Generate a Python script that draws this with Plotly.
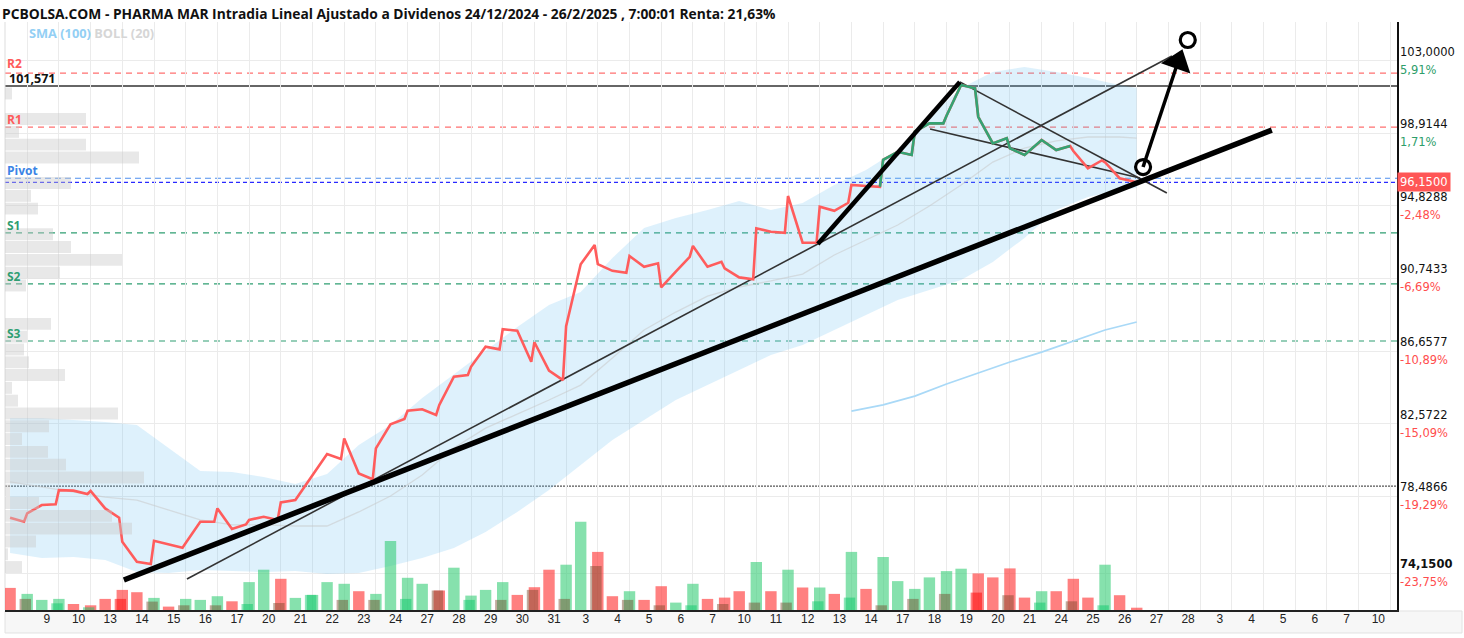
import plotly.graph_objects as go

TITLE = "PCBOLSA.COM - PHARMA MAR Intradia Lineal Ajustado a Dividenos 24/12/2024 - 26/2/2025 , 7:00:01 Renta: 21,63%"

DAY_LABELS = ["9", "10", "13", "14", "15", "16", "17", "20", "21", "22", "23", "24", "27", "28", "29",
              "30", "31", "3", "4", "5", "6", "7", "10", "11", "12", "13", "14", "17", "18", "19", "20",
              "21", "24", "25", "26", "27", "28", "3", "4", "5", "6", "7", "10"]

# intraday price: day -2 (mid, close), days -1..33 (open, mid, close), day 34 (open)
PRICE = [77.28, 77.05,
         77.52, 77.99, 78.03, 78.83, 78.80, 78.61, 78.78, 77.80, 77.28, 75.92, 74.80, 74.67,
         75.98, 75.80, 75.59, 75.85, 77.05, 77.05, 77.80, 76.64, 76.90, 77.15, 77.33, 77.15,
         78.14, 78.27, 79.40, 79.62, 80.86, 80.58, 81.74, 79.77, 79.44, 81.18, 82.53, 82.83,
         83.30, 83.38, 83.06, 83.62, 85.21, 85.31, 85.77, 86.90, 86.75, 87.88, 87.80, 86.05,
         87.15, 85.55, 85.02, 88.06, 91.54, 92.62, 91.55, 91.17, 91.06, 92.00, 91.40, 91.59,
         90.24, 91.12, 91.96, 92.57, 91.40, 91.68, 91.31, 90.80, 90.69, 93.56, 93.37, 93.31,
         95.38, 92.75, 92.75, 94.78, 94.55, 95.00, 96.00, 95.94, 95.90, 97.41, 97.87, 97.69,
         99.00, 99.47, 99.47, 99.90, 101.63, 101.44, 99.84, 98.34, 98.63, 98.06, 97.69, 98.36,
         98.53, 97.97, 98.19, 97.91, 96.94, 97.38, 97.28, 96.38, 96.20,
         96.15]
GREEN_FROM, GREEN_TO = 82, 101   # stretch of the line drawn in green

# volume, two bars per session (last one = opening of 26 Feb)
VOL = [221, 161, 101, 111, 60, 47, 111, 201, 178, 121, 34, 111, 101, 138, 87, 279, 403, 312,
       121, 151, 279, 262, 188, 161, 691, 322, 262, 195, 423, 144, 201, 279, 151, 228, 403, 453,
       883, 581, 138, 188, 101, 238, 74, 262, 111, 124, 188, 480, 188, 403, 225, 225, 161, 581,
       211, 530, 289, 211, 326, 389, 413, 366, 326, 416, 124, 188, 188, 312, 124, 453, 148, 23]
VOL_DIR = list("rgggrrrrrg" "rgggrggrgg" "ggrggggrgg" "ggrrrggrrg" "rrggrrrgrg"
               "rgrgrggggg" "grrrrgrrrg" "rr")
# opening-auction volume of each session
OPEN_VOL = [111, 67, 27, 111, 84, 47, 47, 60, 70, 151, 101, 101, 111, 195, 101, 101, 201, 111,
            440, 101, 47, 47, 60, 74, 74, 87, 124, 47, 111, 161, 174, 148, 74, 87, 47]
OPEN_DIR = list("kggrkkkgkgkkgkgkkkkkkgkkkggkkkrkgkg")

# Bollinger (20) per session, last value at the final tick
BOLL_UP = [82.89, 82.89, 82.78, 82.66, 82.49, 81.20, 79.90, 79.85, 79.57, 79.17, 79.74, 81.37,
           82.49, 84.01, 85.36, 86.71, 88.01, 89.25, 89.98, 91.89, 93.58, 94.14, 94.59, 95.10,
           94.59, 94.99, 96.00, 96.84, 97.97, 99.83, 101.46, 102.36, 102.64, 102.36, 102.02,
           101.63, 101.46]
BOLL_MID = [79.29, 79.00, 78.72, 78.44, 78.27, 77.71, 77.15, 76.87, 76.87, 76.81, 76.81, 77.60,
            78.50, 79.68, 81.20, 82.32, 83.11, 83.90, 84.74, 86.26, 87.84, 88.85, 89.75, 90.26,
            90.60, 90.99, 92.06, 92.90, 93.75, 94.82, 96.00, 97.29, 98.08, 98.48, 98.70, 98.70,
            98.64]
BOLL_LOW = [75.29, 75.01, 75.07, 74.90, 74.22, 74.16, 74.33, 74.28, 74.22, 74.28, 74.11, 74.16,
            74.56, 75.01, 75.57, 76.47, 77.60, 78.84, 80.24, 81.65, 82.78, 83.90, 84.74, 85.59,
            86.43, 87.00, 87.84, 88.68, 89.53, 90.09, 90.65, 91.67, 93.02, 94.59, 95.32, 95.72,
            95.83]
SMA100 = [83.28, 83.62, 84.12, 84.80, 85.42, 86.04, 86.60, 87.22, 87.84, 88.29]
SMA_FIRST_DAY = 25

# volume-at-price profile (top bin first)
PROFILE_TOP, PROFILE_STEP = 101.15, 0.7203
PROFILE_VOL = [70, 0, 810, 140, 810, 1340, 0, 660, 260, 330, 0, 480, 660, 1170, 550, 210, 0, 0,
               460, 220, 190, 240, 600, 70, 130, 1130, 440, 170, 430, 610, 1390, 50, 340, 1070,
               1270, 310, 30, 170]

# levels
R2, R1, PIVOT, S1, S2, S3 = 102.30, 99.26, 96.38, 93.30, 90.43, 87.22
LAST_MAX = 101.571
LAST_PRICE = 96.15
START_PRICE = 79.05

Y_TICKS = [103.0, 98.9144, 94.8288, 90.7433, 86.6577, 82.5722, 78.4866, 74.15]
Y_LABELS = ["103,0000", "98,9144", "94,8288", "90,7433", "86,6577", "82,5722", "78,4866", "74,1500"]
Y_PCT = ["5,91%", "1,71%", "-2,48%", "-6,69%", "-10,89%", "-15,09%", "-19,29%", "-23,75%"]

# drawn lines (session index, price)
TREND_THICK = [(2.05, 73.77), (38.26, 99.09)]
TREND_THIN = [(4.04, 73.83), (35.11, 103.26)]
LEG_UP = [(23.94, 92.68), (28.42, 101.80)]
LEG_DOWN = [(28.42, 101.80), (34.95, 95.55)]
WEDGE = [(27.48, 99.15), (34.10, 96.39)]
ARROW = [(34.20, 97.01), (35.30, 102.92)]
ARROW_END = (35.61, 104.16)

X_RANGE = [-1.70, 42.21]
Y_RANGE = [72.083, 105.172]
VOL_RANGE = [0, 5880]
PROF_RANGE = [0, 13920]

# ---------- time grid ----------
price_t = []
for d in range(-2, 35):
    price_t += [d, d + 0.46, d + 0.9]
price_t = price_t[1:1 + len(PRICE)]
bar_t = []
for d in range(-2, 35):
    bar_t += [d, d + 0.46]
bar_t = bar_t[1:1 + len(VOL)]
open_t = bar_t[1::2][:len(OPEN_VOL)]
boll_t = [d + 0.46 for d in range(-2, 34)] + [34.0]
sma_t = [SMA_FIRST_DAY + k for k in range(len(SMA100))]
label_pos = [k - 0.38 for k in range(len(DAY_LABELS))]
prof_y = [PROFILE_TOP - j * PROFILE_STEP for j in range(len(PROFILE_VOL))]

fig = go.Figure()

# volume profile
fig.add_trace(go.Bar(x=PROFILE_VOL, y=prof_y, orientation="h", width=PROFILE_STEP * 0.93,
                     marker=dict(color="rgba(200,200,200,0.42)", line=dict(width=0)),
                     xaxis="x3", yaxis="y", hoverinfo="skip"))
# Bollinger band
fig.add_trace(go.Scatter(x=boll_t, y=BOLL_UP, mode="lines", line=dict(width=0, color="rgba(0,0,0,0)"),
                         hoverinfo="skip"))
fig.add_trace(go.Scatter(x=boll_t, y=BOLL_LOW, mode="lines", line=dict(width=0, color="rgba(0,0,0,0)"),
                         fill="tonexty", fillcolor="rgba(100,190,240,0.21)", hoverinfo="skip"))
fig.add_trace(go.Scatter(x=boll_t, y=BOLL_MID, mode="lines",
                         line=dict(width=1.3, color="rgba(200,200,200,0.55)"), hoverinfo="skip"))
fig.add_trace(go.Scatter(x=sma_t, y=SMA100, mode="lines", line=dict(width=1.8, color="#a9d9f7"),
                         hoverinfo="skip"))

# volume bars
OUT_COL = {"g": "rgba(46,204,113,0.58)", "r": "rgba(255,60,60,0.65)"}
IN_COL = {"g": "rgba(0,200,100,0.45)", "r": "rgba(255,0,0,0.5)", "k": "rgba(120,70,40,0.45)"}
fig.add_trace(go.Bar(x=bar_t, y=VOL, width=0.36, xaxis="x", yaxis="y2",
                     marker=dict(color=[OUT_COL[c] for c in VOL_DIR], line=dict(width=0)),
                     hoverinfo="skip"))
fig.add_trace(go.Bar(x=open_t, y=OPEN_VOL, width=0.36, offset=-0.24, xaxis="x", yaxis="y2",
                     marker=dict(color=[IN_COL[c] for c in OPEN_DIR], line=dict(width=0)),
                     hoverinfo="skip"))

# drawn trend lines
def seg(pts, w, col):
    fig.add_trace(go.Scatter(x=[p[0] for p in pts], y=[p[1] for p in pts], mode="lines",
                             line=dict(width=w, color=col), hoverinfo="skip"))

seg(TREND_THIN, 1.6, "#333333")
seg(LEG_DOWN, 1.6, "#333333")
seg(WEDGE, 1.6, "#333333")

# price line
fig.add_trace(go.Scatter(x=price_t, y=PRICE, mode="lines", line=dict(width=2.6, color="#ff5c5c"),
                         hoverinfo="skip"))
fig.add_trace(go.Scatter(x=price_t[GREEN_FROM:GREEN_TO], y=PRICE[GREEN_FROM:GREEN_TO], mode="lines",
                         line=dict(width=2.6, color="#34a373"), hoverinfo="skip"))

seg(TREND_THICK, 5.5, "#000000")
seg(LEG_UP, 4.5, "#000000")
seg(ARROW, 3.5, "#000000")
fig.add_trace(go.Scatter(x=[ARROW[1][0]], y=[ARROW[1][1]], mode="markers",
                         marker=dict(symbol="triangle-up", size=27, angle=19.5, color="#000000"),
                         hoverinfo="skip"))
fig.add_trace(go.Scatter(x=[ARROW[0][0], ARROW_END[0]], y=[ARROW[0][1], ARROW_END[1]], mode="markers",
                         marker=dict(symbol="circle-open", size=15, color="#000000",
                                     line=dict(width=3.2, color="#000000")),
                         hoverinfo="skip"))
# dummy trace for label axis
fig.add_trace(go.Scatter(x=[None], y=[None], xaxis="x2", yaxis="y", hoverinfo="skip"))

# level lines
shapes = []
def hline(y, color, dash, width=1.2):
    shapes.append(dict(type="line", xref="paper", x0=0, x1=1, yref="y", y0=y, y1=y,
                       line=dict(color=color, width=width, dash=dash), layer="between"))

hline(R2, "#ff7070", "6px,5px")
hline(R1, "#ff7070", "6px,5px")
hline(PIVOT, "#4d8ff0", "6px,4px")
hline(LAST_PRICE, "#2a2aff", "4px,3px")
hline(S1, "#2f9e72", "6px,5px")
hline(S2, "#2f9e72", "6px,5px")
hline(S3, "#2f9e72", "6px,5px")
hline(LAST_MAX, "#333333", "solid", 1.3)
hline(START_PRICE, "#555555", "2px,1px", 1.2)
# x label strip
shapes.append(dict(type="rect", xref="paper", yref="paper", x0=0, x1=1.0467, y0=-0.0391, y1=-0.0017,
                   fillcolor="#f7f7f7", line=dict(color="#e2e2e2", width=1), layer="below"))
shapes.append(dict(type="line", xref="paper", yref="paper", x0=0, x1=0, y0=0, y1=1,
                   line=dict(color="#dddddd", width=1), layer="below"))

ann = []
ann.append(dict(x=0, xref="paper", xanchor="left", xshift=-5, y=1.0153, yref="paper", yanchor="middle",
                text="<b>" + TITLE + "</b>", showarrow=False,
                font=dict(family="Open Sans", size=13.8, color="#111111")))
ann.append(dict(x=0.0158, xref="paper", xanchor="left", y=0.9813, yref="paper", yanchor="middle",
                text="<b><span style='color:#93cff4'>SMA (100)</span> <span style='color:#d6d6d6'>BOLL (20)</span></b>",
                showarrow=False, font=dict(family="Open Sans", size=12.8)))

for name, lvl, col in [("R2", R2, "#ff5a5a"), ("R1", R1, "#ff5a5a"), ("Pivot", PIVOT, "#3b84e6"),
                       ("S1", S1, "#2f9e72"), ("S2", S2, "#2f9e72"), ("S3", S3, "#2f9e72")]:
    ann.append(dict(x=0, xref="paper", xanchor="left", y=lvl, yref="y", yanchor="bottom",
                    yshift=-3 if name != "R2" else -1,
                    text="<b>" + name + "</b>", showarrow=False,
                    font=dict(family="Open Sans", size=12, color=col)))
ann.append(dict(x=0, xref="paper", xanchor="left", xshift=2, y=LAST_MAX, yref="y", yanchor="bottom",
                yshift=-3,
                text="<b>" + f"{LAST_MAX:.3f}".replace(".", ",") + "</b>", showarrow=False,
                font=dict(family="Open Sans", size=12.5, color="#111111")))

for val, lab, pct in zip(Y_TICKS, Y_LABELS, Y_PCT):
    txt = "<b>" + lab + "</b>" if lab == Y_LABELS[-1] else lab
    ann.append(dict(x=1, xref="paper", xanchor="left", xshift=1, y=val, yref="y", yanchor="bottom",
                    text=txt, showarrow=False,
                    font=dict(family="DejaVu Sans", size=11.5, color="#111111")))
    ann.append(dict(x=1, xref="paper", xanchor="left", xshift=1, y=val, yref="y", yanchor="top",
                    text=pct, showarrow=False,
                    font=dict(family="DejaVu Sans", size=11.5,
                              color="#ff4d4d" if pct.startswith("-") else "#2e9e6a")))
ann.append(dict(x=1, xref="paper", xanchor="left", y=LAST_PRICE, yref="y", yanchor="middle",
                text=f"{LAST_PRICE:.4f}".replace(".", ","), showarrow=False, bgcolor="#ff5656",
                borderpad=2, font=dict(family="DejaVu Sans", size=11.5, color="#ffffff")))

fig.update_layout(
    width=1464, height=638, autosize=False,
    margin=dict(l=5, r=67, t=22, b=28),
    paper_bgcolor="white", plot_bgcolor="white",
    showlegend=False, barmode="overlay",
    xaxis=dict(range=X_RANGE, tickmode="linear", tick0=0, dtick=1, showticklabels=False,
               showgrid=True, gridcolor="#ebebeb", gridwidth=1, zeroline=False,
               showline=True, linecolor="#222222", linewidth=2, ticks="", fixedrange=True),
    xaxis2=dict(range=X_RANGE, overlaying="x", anchor="y", side="bottom", tickmode="array",
                tickvals=label_pos, ticktext=DAY_LABELS, showgrid=False, zeroline=False,
                showline=False, ticks="", tickfont=dict(family="Liberation Sans", size=12, color="#222222")),
    xaxis3=dict(range=PROF_RANGE, overlaying="x", anchor="y", visible=False),
    yaxis=dict(range=Y_RANGE, side="right", tickmode="array", tickvals=Y_TICKS, showticklabels=False,
               showgrid=True, gridcolor="#ebebeb", zeroline=False, showline=True,
               linecolor="#111111", linewidth=1.5, ticks="", fixedrange=True),
    yaxis2=dict(range=VOL_RANGE, overlaying="y", anchor="x", visible=False),
    shapes=shapes, annotations=ann,
)

fig.write_html("out.html")
